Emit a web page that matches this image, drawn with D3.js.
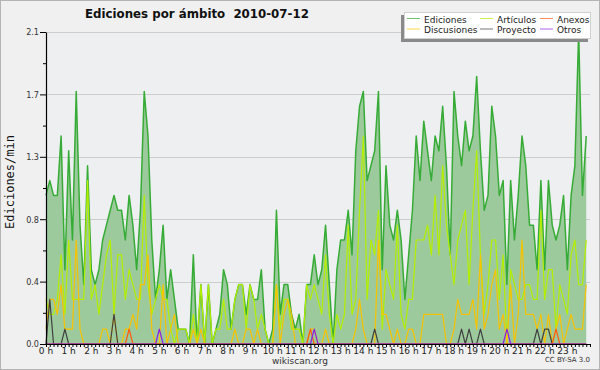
<!DOCTYPE html>
<html>
<head>
<meta charset="utf-8">
<script src="https://cdn.jsdelivr.net/npm/d3@7/dist/d3.min.js"></script>
<style>
	body { margin: 0; background: #f0f0f0; }
	svg { display: block; }
</style>
</head>
<body>
<svg width="600" height="370"></svg>
<script>

	// Ediciones por minuto, una medida cada 10 minutos (144 por dia)
	var hours = ["0 h","1 h","2 h","3 h","4 h","5 h","6 h","7 h","8 h","9 h","10 h","11 h",
		"12 h","13 h","14 h","15 h","16 h","17 h","18 h","19 h","20 h","21 h","22 h","23 h"];

	var y_ticks = [0, 0.42, 0.84, 1.26, 1.68, 2.1];

	var ediciones = [
		1.0,1.1,1.0,1.0,1.4,0.5, 1.3,0.7,1.7,0.8,0.4,1.2, 0.5,0.4,0.5,0.7,0.8,0.9, 1.0,0.9,0.9,0.7,1.0,0.8,
		0.5,0.9,1.7,1.4,0.7,0.3, 0.5,0.8,0.3,0.5,0.3,0.1, 0.1,0.1,0.0,0.6,0.0,0.4, 0.0,0.4,0.0,0.1,0.2,0.5,
		0.4,0.1,0.3,0.4,0.4,0.2, 0.4,0.3,0.3,0.5,0.1,0.0, 0.1,0.9,0.2,0.4,0.4,0.2, 0.1,0.2,0.0,0.4,0.4,0.6,
		0.4,0.5,0.8,0.4,0.0,0.5, 0.7,0.7,0.9,0.6,1.3,1.6, 1.7,1.1,1.2,1.3,1.7,0.5, 1.2,0.8,0.7,0.9,0.7,0.3,
		0.6,0.9,1.4,1.1,1.5,1.3, 1.1,1.4,1.3,1.6,1.2,0.6, 1.7,1.4,1.2,1.5,1.3,1.4, 1.8,1.3,0.9,1.0,1.6,1.4,
		1.0,1.1,0.4,1.1,0.7,1.0, 1.4,1.2,0.8,0.8,0.5,1.1, 0.5,1.1,0.8,0.7,0.8,1.0, 0.5,1.0,1.2,2.1,1.0,1.4
	];

	var articulos = [
		0.3,0.2,0.2,0.3,0.6,0.2, 0.7,0.3,0.3,0.3,0.3,1.1, 0.3,0.4,0.2,0.4,0.6,0.7, 0.2,0.6,0.6,0.3,0.5,0.4,
		0.3,0.3,1.0,0.4,0.2,0.3, 0.4,0.3,0.3,0.1,0.0,0.1, 0.1,0.1,0.0,0.2,0.0,0.4, 0.0,0.4,0.0,0.1,0.1,0.3,
		0.1,0.1,0.3,0.4,0.4,0.1, 0.4,0.3,0.1,0.2,0.1,0.0, 0.0,0.4,0.1,0.3,0.3,0.1, 0.1,0.1,0.0,0.4,0.3,0.4,
		0.3,0.2,0.6,0.2,0.0,0.2, 0.1,0.2,0.8,0.2,0.3,0.9, 1.4,0.3,0.7,0.6,0.9,0.1, 0.5,0.4,0.3,0.8,0.2,0.1,
		0.3,0.3,0.7,0.7,0.7,0.8, 0.6,1.0,0.6,1.2,0.8,0.6, 0.4,0.7,0.8,0.9,0.4,0.9, 1.3,0.6,0.2,0.4,0.7,0.7,
		0.3,0.6,0.0,0.5,0.4,0.3, 0.3,0.4,0.4,0.3,0.3,0.9, 0.3,0.5,0.5,0.1,0.4,0.3, 0.2,0.6,0.7,0.4,0.4,0.7
	];

	var discusiones = [
		0.1,0.3,0.3,0.2,0.4,0.1, 0.1,0.1,0.7,0.1,0.0,0.0, 0.0,0.0,0.0,0.1,0.1,0.0, 0.2,0.0,0.0,0.1,0.1,0.2,
		0.1,0.4,0.4,0.6,0.1,0.0, 0.0,0.4,0.0,0.1,0.2,0.0, 0.0,0.0,0.0,0.1,0.0,0.1, 0.0,0.0,0.0,0.0,0.0,0.0,
		0.0,0.0,0.1,0.0,0.0,0.1, 0.1,0.0,0.1,0.0,0.0,0.0, 0.0,0.4,0.0,0.2,0.3,0.2, 0.0,0.0,0.0,0.0,0.1,0.1,
		0.0,0.0,0.1,0.0,0.0,0.0, 0.0,0.0,0.0,0.0,0.1,0.3, 0.1,0.0,0.0,0.0,0.7,0.2, 0.2,0.1,0.0,0.1,0.0,0.0,
		0.1,0.1,0.0,0.0,0.2,0.2, 0.2,0.2,0.2,0.2,0.0,0.0, 0.1,0.3,0.2,0.2,0.2,0.3, 0.1,0.6,0.1,0.2,0.4,0.5,
		0.1,0.2,0.0,0.4,0.0,0.2, 0.7,0.2,0.2,0.2,0.1,0.2, 0.0,0.2,0.0,0.1,0.2,0.0, 0.1,0.2,0.1,0.1,0.1,0.4
	];

	var anexos = [
		0,0,0,0,0,0, 0,0,0,0,0,0, 0,0,0,0,0,0, 0,0,0,0,0.1,0,
		0,0,0,0,0,0, 0,0,0,0,0,0, 0,0,0,0,0,0, 0,0,0,0,0,0,
		0,0,0,0,0,0, 0,0,0,0,0,0, 0,0,0,0,0,0, 0,0,0,0,0.1,0,
		0,0,0,0,0,0, 0,0,0,0,0,0, 0,0,0,0,0,0, 0,0,0,0,0,0,
		0,0,0,0,0,0, 0,0,0,0,0,0, 0,0,0,0,0,0, 0,0,0,0,0,0,
		0,0,0,0,0,0, 0,0,0,0,0,0, 0,0,0,0.1,0,0, 0,0,0,0,0,0
	];

	var proyecto = [
		0,0.3,0,0,0,0.1, 0,0,0,0,0,0, 0,0,0,0,0,0, 0.2,0,0,0,0,0,
		0,0,0,0,0,0, 0,0,0,0,0,0, 0,0,0,0,0,0, 0,0,0,0,0,0,
		0,0,0,0,0,0, 0,0,0,0,0,0, 0,0,0,0,0,0, 0,0,0,0,0,0,
		0,0,0,0,0,0, 0,0,0,0,0,0, 0,0,0,0.1,0,0, 0,0,0,0,0,0,
		0,0,0,0,0,0, 0,0,0,0,0,0, 0,0,0.1,0,0.1,0, 0,0.1,0,0,0,0,
		0,0,0,0,0,0, 0,0,0,0,0.1,0, 0.1,0.1,0,0,0,0, 0,0,0,0,0,0
	];

	var otros = [
		0,0,0,0,0,0, 0,0,0,0,0,0, 0,0,0,0,0,0, 0,0,0,0,0,0,
		0,0,0,0,0,0, 0.1,0,0,0,0,0, 0,0,0,0,0,0, 0,0,0,0,0,0,
		0,0,0,0,0,0, 0,0,0,0,0,0, 0,0,0,0,0,0, 0,0,0,0,0,0.1,
		0,0,0,0,0,0, 0,0,0,0,0,0, 0,0,0,0,0,0, 0,0,0,0,0,0,
		0,0,0,0,0,0, 0,0,0,0,0,0, 0,0,0,0,0,0, 0,0,0,0,0,0,
		0,0,0.1,0,0,0, 0,0,0,0,0,0, 0,0,0,0,0,0, 0,0,0,0,0,0
	];

	var series_names = ["Ediciones", "Artículos", "Anexos", "Discusiones", "Proyecto", "Otros"];
	var series_colors = ["#36ac36", "#b4ee00", "#ff5a10", "#f7c300", "#404040", "#8a1fe6"];

	var chart = (function(){

		var svg = d3.select("svg");
		var left = 46, right = 590, top = 32, bottom = 344;

		var x = d3.scaleLinear().domain([0, 1440]).range([left, right]);
		var y = d3.scaleLinear().domain([0, 2.1]).range([bottom, top]);

		function px(d, i){ return x(i * 10); }

		function draw_frame(){
			svg.append('rect').attr('x', 0.5).attr('y', 0.5).attr('width', 599).attr('height', 369)
				.attr('fill', '#f0f0f0').attr('stroke', '#b4b4b4');
			svg.append('rect').attr('x', left).attr('y', top).attr('width', right - left).attr('height', bottom - top)
				.attr('fill', '#eeeff1');

			// lineas de la rejilla
			svg.append('g').selectAll('line').data(y_ticks.slice(1)).enter().append('line')
				.attr('x1', left).attr('x2', right)
				.attr('y1', function(d){ return Math.round(y(d)) + 0.5; })
				.attr('y2', function(d){ return Math.round(y(d)) + 0.5; })
				.attr('stroke', '#cdcdcd');
		}

		function draw_series(){
			var area = d3.area().x(px).y0(y(0)).y1(function(d){ return y(d); });
			svg.append('path').datum(ediciones).attr('d', area).attr('fill', '#9dca9d');

			var line = d3.line().x(px).y(function(d){ return y(d); });
			var all = [ediciones, articulos, discusiones, proyecto, anexos, otros];
			var colors = [series_colors[0], series_colors[1], series_colors[3], series_colors[4], series_colors[2], series_colors[5]];
			for(var i = 0; i < all.length; i++){
				svg.append('path').datum(all[i]).attr('d', line)
					.attr('fill', 'none').attr('stroke', colors[i])
					.attr('stroke-width', i === 0 ? 1.5 : 1.2).attr('stroke-linejoin', 'round');
			}
		}

		function draw_axes(){
			var minor = [0.21, 0.63, 1.05, 1.47, 1.89];

			var y_axis = d3.axisLeft(y).tickValues(y_ticks).tickFormat(d3.format('.1f'))
				.tickSize(6).tickSizeOuter(0).tickPadding(1);
			var gy = svg.append('g').attr('transform', 'translate(' + left + ',0)').call(y_axis);
			gy.append('g').call(d3.axisLeft(y).tickValues(minor).tickFormat('').tickSize(3).tickSizeOuter(0))
				.select('.domain').remove();

			var x_axis = d3.axisBottom(x).tickValues(d3.range(0, 1441, 10)).tickFormat('')
				.tickSize(3).tickSizeOuter(0);
			svg.append('g').attr('transform', 'translate(0,' + bottom + ')').call(x_axis);

			svg.selectAll('.domain').attr('stroke', '#000').attr('stroke-width', 1.2);
			svg.selectAll('.tick line').attr('stroke', '#000');
			gy.selectAll('text').attr('font-family', 'DejaVu Sans Condensed, DejaVu Sans')
				.attr('font-size', 9).attr('fill', '#333');

			svg.append('g').selectAll('text').data(hours).enter().append('text')
				.attr('x', function(d, i){ return x(i * 60); })
				.attr('y', 354)
				.attr('text-anchor', 'middle')
				.attr('font-family', 'DejaVu Sans').attr('font-size', 9).attr('fill', '#222')
				.text(function(d){ return d; });

			svg.append('text').attr('transform', 'translate(14,182) rotate(-90)')
				.attr('text-anchor', 'middle')
				.attr('font-family', 'DejaVu Sans Mono').attr('font-size', 12).attr('fill', '#111')
				.text('Ediciones/min');
		}

		function draw_texts(){
			svg.append('text').attr('x', 85).attr('y', 18)
				.attr('font-family', 'DejaVu Sans').attr('font-weight', 'bold').attr('font-size', 11.8)
				.attr('fill', '#111')
				.style('white-space', 'pre')
				.text('Ediciones por ámbito  2010-07-12');
			svg.append('text').attr('x', 300).attr('y', 364).attr('text-anchor', 'middle')
				.attr('font-family', 'DejaVu Sans').attr('font-size', 9).attr('fill', '#333')
				.text('wikiscan.org');
			svg.append('text').attr('x', 590).attr('y', 362).attr('text-anchor', 'end')
				.attr('font-family', 'DejaVu Sans').attr('font-size', 7).attr('fill', '#333')
				.text('CC BY-SA 3.0');
		}

		function draw_legend(){
			var g = svg.append('g');
			g.append('rect').attr('x', 401).attr('y', 15).attr('width', 187).attr('height', 27).attr('fill', '#8a8a8a');
			g.append('rect').attr('x', 404.5).attr('y', 12.5).attr('width', 186).attr('height', 26)
				.attr('fill', '#fff').attr('stroke', '#d0d0d0');

			var cols = [407, 480, 540];
			var rows = [18.5, 29];
			var item = g.selectAll('g.item').data(series_names).enter().append('g').attr('class', 'item')
				.attr('transform', function(d, i){ return 'translate(' + cols[i % 3] + ',' + rows[Math.floor(i / 3)] + ')'; });
			item.append('line').attr('x1', 0).attr('x2', 13).attr('y1', 0).attr('y2', 0)
				.attr('stroke', function(d, i){ return series_colors[i]; }).attr('stroke-opacity', 0.7);
			item.append('text').attr('x', 17).attr('y', 4)
				.attr('font-family', 'DejaVu Sans').attr('font-size', 9).attr('fill', '#222')
				.text(function(d){ return d; });
		}

		draw_frame();
		draw_series();
		draw_axes();
		draw_texts();
		draw_legend();

		return null;
	})();

</script>
</body>
</html>
